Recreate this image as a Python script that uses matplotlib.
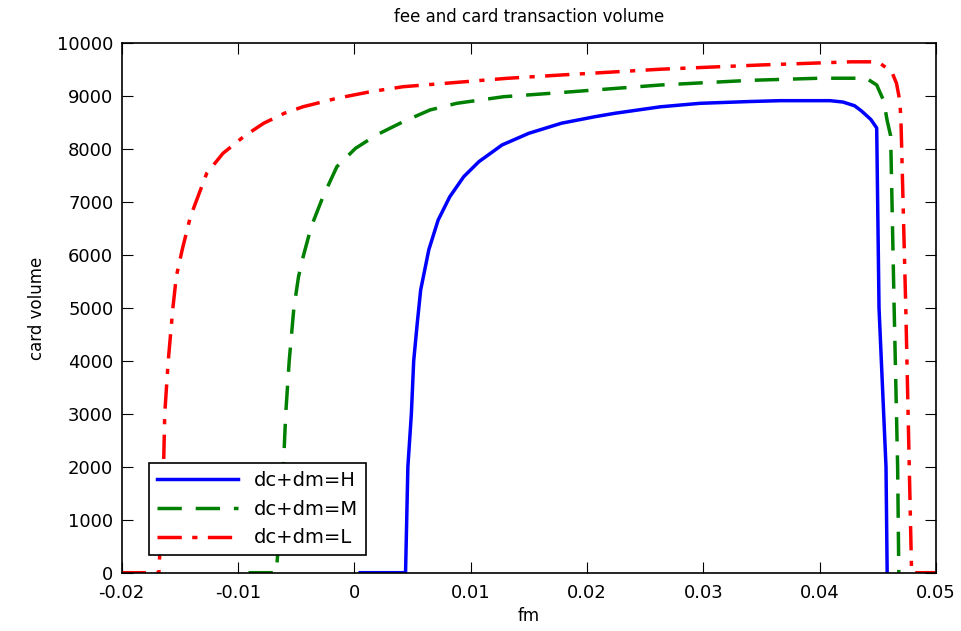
import matplotlib
matplotlib.use("Agg")
import matplotlib.pyplot as plt

fm_H = [0.0005, 0.0044, 0.0046, 0.0049, 0.0051, 0.0054, 0.0057, 0.0064, 0.0072,
        0.0082, 0.0094, 0.0107, 0.0127, 0.0150, 0.0178, 0.0207, 0.0224, 0.0263,
        0.0297, 0.0340, 0.0366, 0.0409, 0.0420, 0.0430, 0.0436, 0.0444, 0.0449,
        0.0451, 0.0457, 0.0458]
vol_H = [0, 0, 2000, 3000, 4000, 4700, 5340, 6100, 6660,
         7100, 7480, 7763, 8080, 8300, 8490, 8614, 8678, 8800,
         8866, 8900, 8916, 8916, 8890, 8820, 8720, 8560, 8400,
         5000, 2000, 0]

fm_M = [-0.0091, -0.0067, -0.0061, -0.0059, -0.0056, -0.0052, -0.0048, -0.0044,
        -0.0037, -0.0027, -0.0015, 0.0001, 0.0019, 0.0042, 0.0065, 0.0088,
        0.0128, 0.0178, 0.0263, 0.0340, 0.0400, 0.0440, 0.0449, 0.0455,
        0.0458, 0.0461, 0.0464, 0.0467, 0.0468]
vol_M = [0, 0, 2000, 3000, 4000, 5000, 5590, 5970,
         6540, 7100, 7670, 8016, 8268, 8519, 8740, 8866,
         8990, 9070, 9212, 9300, 9340, 9340, 9212, 8916,
         8540, 8250, 5000, 2000, 0]

fm_L = [-0.0200, -0.0168, -0.0164, -0.0163, -0.0160, -0.0156, -0.0153, -0.0148,
        -0.0141, -0.0127, -0.0113, -0.0095, -0.0078, -0.0060, -0.0044, -0.0015,
        0.0014, 0.0042, 0.0085, 0.0131, 0.0177, 0.0263, 0.0349, 0.0427,
        0.0446, 0.0452, 0.0462, 0.0466, 0.0469, 0.0470, 0.0474, 0.0477,
        0.0479, 0.0500]
vol_L = [0, 0, 2000, 3000, 4000, 5000, 5600, 6100,
         6720, 7540, 7920, 8240, 8489, 8680, 8802, 8961,
         9086, 9180, 9256, 9338, 9400, 9510, 9590, 9650,
         9650, 9620, 9460, 9245, 8900, 8425, 5000, 2000,
         0, 0]

fig = plt.figure(figsize=(9.62, 6.31), dpi=100)
ax = fig.add_axes([0.1265, 0.0924, 0.8465, 0.839])

ax.plot(fm_H, vol_H, color=(0, 0, 1), lw=2.5, label="dc+dm=H")
ax.plot(fm_M, vol_M, color=(0, 0.5, 0), lw=2.5, dashes=(7, 4), label="dc+dm=M")
ax.plot(fm_L, vol_L, color=(1, 0, 0), lw=2.5, dashes=(7, 3, 1.5, 3), label="dc+dm=L")

ax.set_xlim(-0.02, 0.05)
ax.set_ylim(0, 10000)
ax.set_xticks([-0.02, -0.01, 0, 0.01, 0.02, 0.03, 0.04, 0.05])
ax.set_xticklabels(["-0.02", "-0.01", "0", "0.01", "0.02", "0.03", "0.04", "0.05"])
ax.set_yticks(range(0, 10001, 1000))
ax.tick_params(direction="in", top=True, right=True, length=8, labelsize=13, pad=6)
ax.tick_params(axis="x", pad=8)
for s in ax.spines.values():
    s.set_linewidth(1.2)

ax.set_title("fee and card transaction volume", fontsize=12, pad=15)
ax.set_xlabel("fm", fontsize=12, labelpad=4)
ax.set_ylabel("card volume", fontsize=12, labelpad=8)

leg = ax.legend(loc="lower left", fontsize=14, handlelength=4.2, fancybox=False,
                edgecolor="black", framealpha=1, borderaxespad=0.9,
                bbox_to_anchor=(0.012, 0.0))
leg.get_frame().set_linewidth(1.2)

fig.savefig("out.png", dpi=100)
